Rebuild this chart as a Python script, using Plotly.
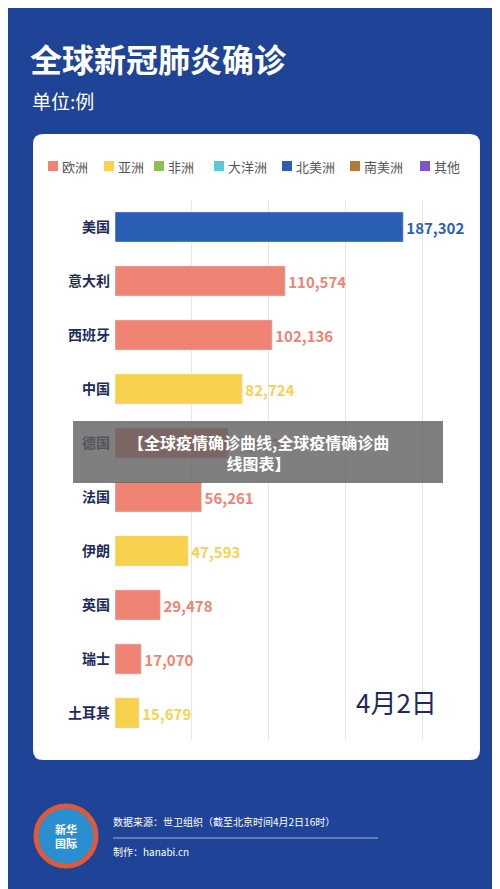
import plotly.graph_objects as go

countries = ["美国", "意大利", "西班牙", "中国", "德国", "法国", "伊朗", "英国", "瑞士", "土耳其"]
cases = [187302, 110574, 102136, 82724, 73522, 56261, 47593, 29478, 17070, 15679]
regions = ["北美洲", "欧洲", "欧洲", "亚洲", "欧洲", "欧洲", "亚洲", "欧洲", "欧洲", "亚洲"]
legend_names = ["欧洲", "亚洲", "非洲", "大洋洲", "北美洲", "南美洲", "其他"]
legend_colors = ["#ef8374", "#f8d14e", "#8fc04f", "#5ec8d8", "#2a5fb5", "#b07b3a", "#7a56c8"]
color_of = dict(zip(legend_names, legend_colors))

W, H = 500, 889
def py(p):
    return 1 - p / H

font = "Noto Sans CJK SC"
fig = go.Figure()
bar_colors = [color_of[r] for r in regions]
fig.add_trace(go.Bar(
    y=countries, x=cases, orientation="h", marker_color=bar_colors,
    text=[f"<b>{v:,}</b>" for v in cases], textposition="outside",
    textfont=dict(color=bar_colors, size=15, family=font),
    cliponaxis=False, showlegend=False, hoverinfo="skip",
))

shapes = [
    dict(type="path", xref="paper", yref="paper", layer="below",
         path=f"M {35/W},{py(126)} L {462/W},{py(126)} Q {472/W},{py(126)} {472/W},{py(136)} "
              f"L {472/W},{py(742)} Q {472/W},{py(752)} {462/W},{py(752)} "
              f"L {35/W},{py(752)} Q {25/W},{py(752)} {25/W},{py(742)} "
              f"L {25/W},{py(136)} Q {25/W},{py(126)} {35/W},{py(126)} Z",
         fillcolor="white", line_width=0),
    dict(type="rect", xref="paper", yref="paper", x0=65 / W, x1=435 / W,
         y0=py(475), y1=py(413), fillcolor="rgba(95,95,95,0.8)", line_width=0),
    dict(type="circle", xref="paper", yref="paper", x0=28 / W, x1=88 / W,
         y0=py(858), y1=py(798), fillcolor="#2a8fd0", line=dict(color="#e05a3a", width=5)),
    dict(type="line", xref="paper", yref="paper", x0=105 / W, x1=370 / W,
         y0=py(830), y1=py(830), line=dict(color="rgba(255,255,255,0.6)", width=1)),
]
annotations = [
    dict(text="<b>全球新冠肺炎确诊</b>", x=20 / W, y=py(50), xanchor="left", yanchor="middle",
         font=dict(size=32, color="white")),
    dict(text="单位:例", x=22 / W, y=py(92), xanchor="left", yanchor="middle",
         font=dict(size=19, color="white")),
    dict(text="<b>【全球疫情确诊曲线,全球疫情确诊曲<br>线图表】</b>", x=0.5, y=py(444),
         xanchor="center", yanchor="middle", font=dict(size=16, color="white")),
    dict(text="4月2日", x=388 / W, y=py(693), xanchor="center", yanchor="middle",
         font=dict(size=26, color="#1d2b5a")),
    dict(text="<b>新华<br>国际</b>", x=58 / W, y=py(828), xanchor="center", yanchor="middle",
         font=dict(size=11, color="white")),
    dict(text="数据来源：世卫组织（截至北京时间4月2日16时）", x=103 / W, y=py(813),
         xanchor="left", yanchor="middle", font=dict(size=10, color="white")),
    dict(text="制作：hanabi.cn", x=103 / W, y=py(843), xanchor="left", yanchor="middle",
         font=dict(size=10, color="white")),
]
legend_x = [40, 96, 146, 206, 274, 342, 412]
for lx, n, c in zip(legend_x, legend_names, legend_colors):
    shapes.append(dict(type="rect", xref="paper", yref="paper", x0=lx / W, x1=(lx + 10) / W,
                       y0=py(163), y1=py(153), fillcolor=c, line_width=0))
    annotations.append(dict(text=n, x=(lx + 12) / W, y=py(158), xanchor="left", yanchor="middle",
                            font=dict(size=13, color="#555")))
for a in annotations:
    a.update(showarrow=False, xref="paper", yref="paper")

fig.update_layout(
    width=W, height=H, margin=dict(l=0, r=0, t=0, b=0),
    paper_bgcolor="#1f4396", plot_bgcolor="rgba(0,0,0,0)",
    bargap=0.44, font=dict(family=font), showlegend=False,
    xaxis=dict(domain=[107 / W, 461 / W], range=[0, 230000], dtick=50000,
               showticklabels=False, gridcolor="#e4e6ec", zeroline=False),
    yaxis=dict(domain=[py(732), py(192)], autorange="reversed",
               tickfont=dict(size=14, color="#1d2b5a", family=font), ticks="",
               ticklabelstandoff=4, tickvals=countries,
               ticktext=[f"<b>{c}</b>" for c in countries]),
    shapes=shapes, annotations=annotations,
)
fig.write_html("out.html")
